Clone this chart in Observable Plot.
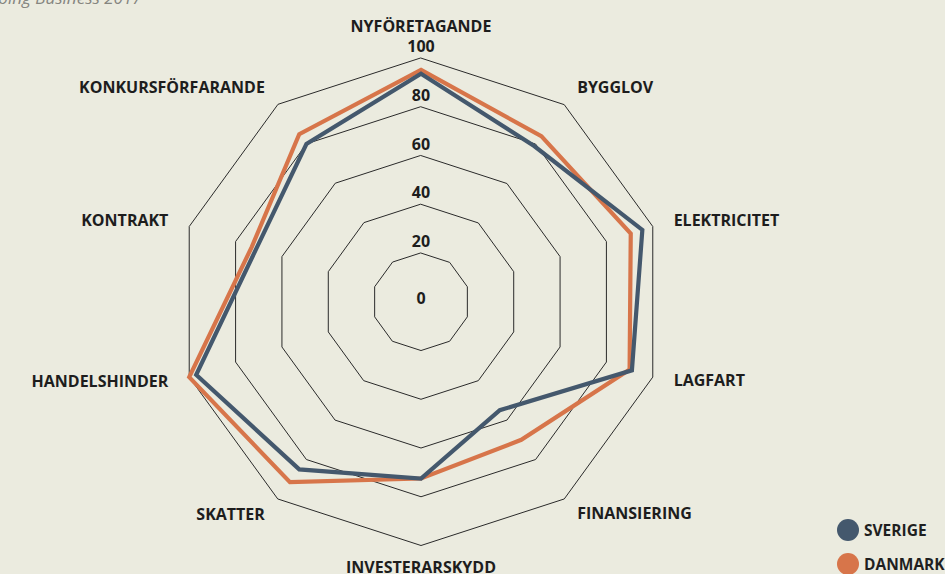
<!DOCTYPE html>
<html><head><meta charset="utf-8">
<script src="https://cdn.jsdelivr.net/npm/d3@7"></script>
<script src="https://cdn.jsdelivr.net/npm/@observablehq/plot@0.6"></script>
<style>
html,body{margin:0;padding:0;background:#ebebdf;width:945px;height:574px;overflow:hidden;}
#wrap{position:relative;width:945px;height:574px;}
#chart{position:absolute;left:0;top:0;}
#title{position:absolute;left:-13px;top:-11px;font:italic 17px "Open Sans";color:#858580;white-space:nowrap;line-height:1;}
#legend{position:absolute;left:837px;top:513px;font:bold 15.5px "Open Sans";color:#1f1f1f;}
.item{display:flex;align-items:center;height:34px;white-space:nowrap;}
.sw{width:22px;height:22px;border-radius:50%;margin-right:5px;flex:none;}
</style></head>
<body><div id="wrap"><div id="chart"></div><div id="title">Doing Business 2017</div><div id="legend"></div></div>
<script>
const categories = ["NYFÖRETAGANDE","BYGGLOV","ELEKTRICITET","LAGFART","FINANSIERING","INVESTERARSKYDD","SKATTER","HANDELSHINDER","KONTRAKT","KONKURSFÖRFARANDE"];
const sverige = [93.6, 79, 95.5, 91, 55, 72.5, 85, 97, 71, 80];
const danmark = [95.2, 84, 90.5, 90, 70, 72.5, 91.5, 100, 73, 85];
const seriesNames = ["SVERIGE", "DANMARK"];
const seriesColors = ["#44586d", "#d7754a"];
const ringValues = [20, 40, 60, 80, 100];
const tickValues = [0, 20, 40, 60, 80, 100];

const W = 945, H = 574, cx = 420.5, cy = 301.3, k = 2.437, labelR = 109;
const n = categories.length;
const ang = i => i * 2 * Math.PI / n;
const px = (i, v) => Math.sin(ang(i)) * v;
const py = (i, v) => Math.cos(ang(i)) * v;

const ringData = ringValues.flatMap(r => categories.map((c, i) => ({r, i})));
const seriesData = [
  ...danmark.map((v, i) => ({s: "DANMARK", i, v})),
  ...sverige.map((v, i) => ({s: "SVERIGE", i, v}))
];
const lab = categories.map((c, i) => ({c, i}));
const side = i => i === 0 ? "top" : i === n / 2 ? "bottom" : i < n / 2 ? "right" : "left";

const font = "'Open Sans', sans-serif";
const textOpts = {fontWeight: "bold", fontSize: 16, fill: "#1d1d1d"};
const lx = d => px(d.i, labelR), ly = d => py(d.i, labelR);

const chart = Plot.plot({
  width: W, height: H,
  margin: 0,
  style: {background: "transparent", fontFamily: font},
  x: {type: "linear", domain: [-cx / k, (W - cx) / k], range: [0, W], axis: null},
  y: {type: "linear", domain: [-(H - cy) / k, cy / k], range: [H, 0], axis: null},
  color: {domain: seriesNames, range: seriesColors},
  marks: [
    Plot.line(ringData, {x: d => px(d.i, d.r), y: d => py(d.i, d.r), z: "r", curve: "linear-closed", stroke: "#2a2a2a", strokeWidth: 1}),
    Plot.line(seriesData, {x: d => px(d.i, d.v), y: d => py(d.i, d.v), z: "s", stroke: "s", curve: "linear-closed", strokeWidth: 4.2, strokeLinejoin: "miter", strokeMiterlimit: 10}),
    Plot.text(tickValues.filter(t => t > 0), {x: 0, y: d => d, text: d => String(d), dy: -11, ...textOpts}),
    Plot.text(tickValues.filter(t => t === 0), {x: 0, y: d => d, text: d => String(d), dy: -3, ...textOpts}),
    Plot.text(lab.filter(d => side(d.i) === "top"), {x: lx, y: ly, text: "c", lineAnchor: "bottom", dy: -4, ...textOpts}),
    Plot.text(lab.filter(d => side(d.i) === "bottom"), {x: lx, y: ly, text: "c", ...textOpts}),
    Plot.text(lab.filter(d => side(d.i) === "right" && d.i < 3), {x: lx, y: ly, text: "c", textAnchor: "start", dy: 1, ...textOpts}),
    Plot.text(lab.filter(d => side(d.i) === "right" && d.i >= 3), {x: lx, y: ly, text: "c", textAnchor: "start", dy: -3, ...textOpts}),
    Plot.text(lab.filter(d => side(d.i) === "left" && d.i <= 7), {x: lx, y: ly, text: "c", textAnchor: "end", dy: -2, ...textOpts}),
    Plot.text(lab.filter(d => side(d.i) === "left" && d.i > 7), {x: lx, y: ly, text: "c", textAnchor: "end", dy: 1, ...textOpts})
  ]
});
document.getElementById("chart").appendChild(chart);

const legend = document.getElementById("legend");
seriesNames.forEach((s, j) => {
  const it = document.createElement("div");
  it.className = "item";
  const sw = document.createElement("span");
  sw.className = "sw";
  sw.style.background = seriesColors[j];
  const t = document.createElement("span");
  t.textContent = s;
  it.appendChild(sw); it.appendChild(t);
  legend.appendChild(it);
});
</script>
</body></html>
